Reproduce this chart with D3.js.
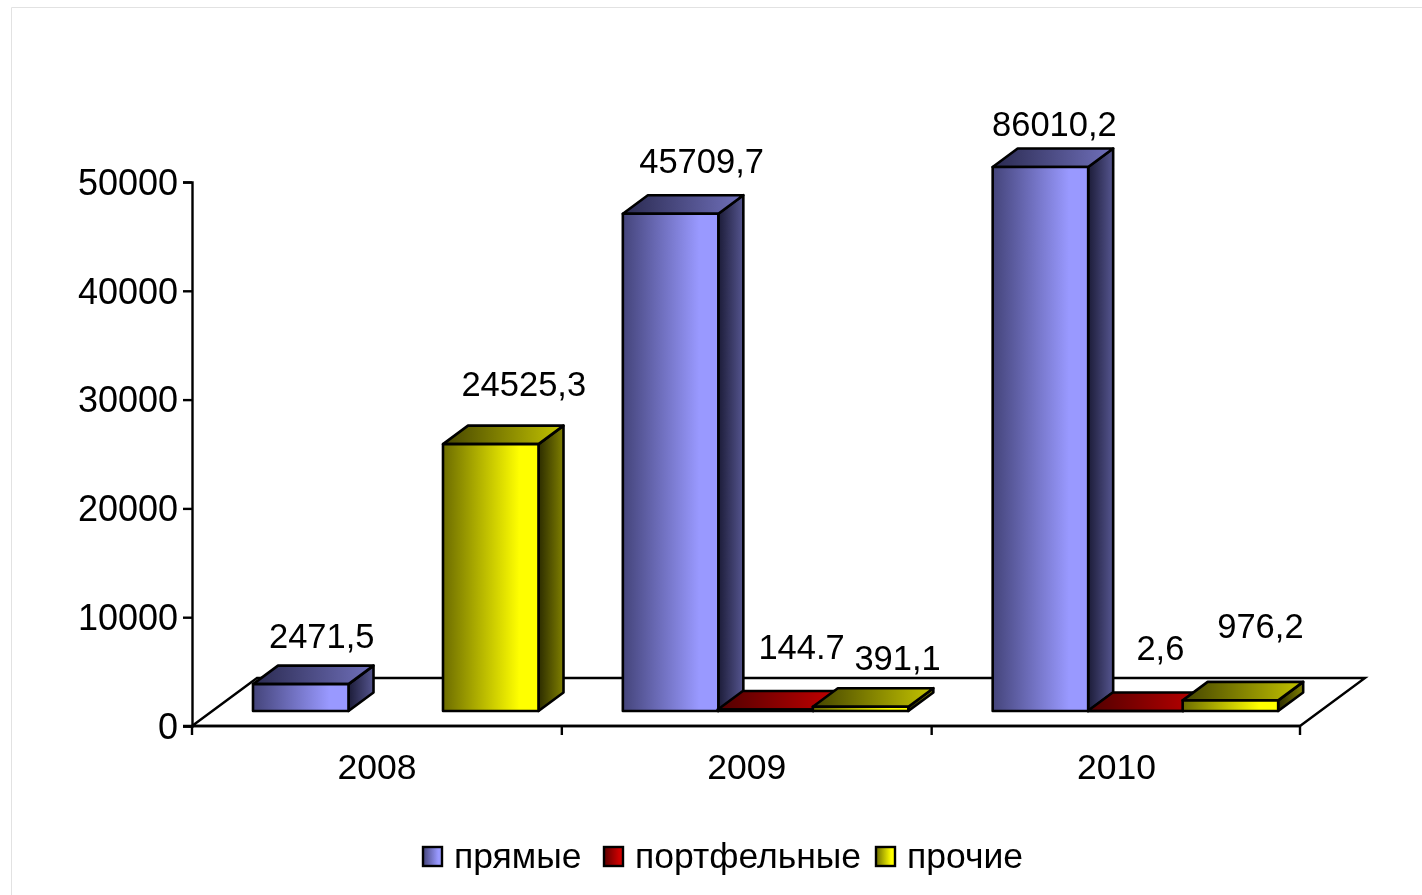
<!DOCTYPE html>
<html><head><meta charset="utf-8">
<style>html,body{margin:0;padding:0;background:#fff;overflow:hidden}svg{display:block;filter:blur(0.45px)}
text{font-family:"Liberation Sans",Arial,sans-serif;fill:#000}</style>
<script src="https://cdn.jsdelivr.net/npm/d3@7/dist/d3.min.js"></script></head>
<body><svg id="c" width="1422" height="895"></svg>
<script>
const years = ["2008","2009","2010"];
const seriesNames = ["прямые","портфельные","прочие"];
const direct = [2471.5,45709.7,86010.2];
const portfolio = [null,144.7,2.6];
const other = [24525.3,391.1,976.2];
const directLabels = ["2471,5","45709,7","86010,2"];
const portfolioLabels = [null,"144.7","2,6"];
const otherLabels = ["24525,3","391,1","976,2"];
const yTicks = [0,10000,20000,30000,40000,50000];

const seriesValues=[direct,portfolio,other], seriesLabels=[directLabels,portfolioLabels,otherLabels];
const palettes=[
 {front:["#44447a","#9999ff"],side:["#1c1c38","#55558f"],top:["#2a2a50","#7070bb"]},
 {front:["#5c0000","#cc0000"],side:["#330000","#800000"],top:["#500000","#c40000"]},
 {front:["#6c6c00","#ffff00"],side:["#2c2c00","#808000"],top:["#444400","#c4c400"]}];
const L=192,R=1300,Y0=726,Ytop=182;
const depth={dx:65,dy:-48}, frontOff={dx:20,dy:-15}, barDepth={dx:25,dy:-18.5};
const svg=d3.select("#c");
const defs=svg.append("defs");
palettes.forEach((p,i)=>{for(const k of ["front","side","top"]){
  const g=defs.append("linearGradient").attr("id",`g${i}${k}`);
  g.append("stop").attr("offset","0").attr("stop-color",p[k][0]);
  g.append("stop").attr("offset",k==="front"?"0.8":"1").attr("stop-color",p[k][1]);
  if(k==="front")g.append("stop").attr("offset","1").attr("stop-color",p[k][1]);
}});
const x=d3.scaleBand().domain(years).range([L,1301.5]);
const inner=d3.scaleBand().domain(d3.range(3)).range([41,41+285]);
const bw=95.5;
const y=d3.scaleLinear().domain([0,50000]).range([Y0,Ytop]).clamp(true);

// page frame
svg.append("path").attr("d","M11.5,895V7.5H1422").attr("fill","none").attr("stroke","#e2e2e2");
// floor
svg.append("path").attr("d",`M${L},${Y0}L${L+depth.dx},${Y0+depth.dy}H${R+depth.dx}L${R},${Y0}Z`)
 .attr("fill","#fff").attr("stroke","#000").attr("stroke-width",2.4);
// axes
const yAxis=d3.axisLeft(y).tickValues(yTicks).tickFormat(d3.format("d")).tickSize(9).tickPadding(5);
const ya=svg.append("g").attr("transform",`translate(${L},0)`).call(yAxis);
ya.select(".domain").attr("stroke","#000").attr("stroke-width",2.4);
ya.selectAll("line").attr("stroke","#000").attr("stroke-width",2.4);
ya.selectAll("text").style("font-size","36px").attr("dy","0.34em").attr("fill","#000");
const xa=svg.append("g").attr("transform",`translate(0,${Y0})`);
xa.append("line").attr("x1",L-9).attr("x2",R).attr("stroke","#000").attr("stroke-width",2.4);
xa.selectAll("line.t").data([...years.map(d=>x(d)),R]).join("line").attr("class","t")
 .attr("x1",d=>d).attr("x2",d=>d).attr("y1",0).attr("y2",9).attr("stroke","#000").attr("stroke-width",2.4);
xa.selectAll("text").data(years).join("text").attr("x",d=>x(d)+x.bandwidth()/2).attr("y",53)
 .attr("text-anchor","middle").style("font-size","35.5px").text(d=>d);
// bars
const bars=[];
years.forEach((yr,c)=>seriesValues.forEach((vals,s)=>{if(vals[c]!=null)bars.push({c:yr,ci:c,s,v:vals[c]})}));
const sg=svg.append("g").attr("stroke","#000").attr("stroke-width",2.6).attr("stroke-linejoin","round");
bars.forEach(b=>{
  const x0=x(b.c)+inner(b.s)+frontOff.dx, x1=x0+bw, base=Y0+frontOff.dy;
  const top=y(b.v)+frontOff.dy, dx=barDepth.dx, dy=barDepth.dy;
  sg.append("path").attr("fill",`url(#g${b.s}side)`).attr("d",`M${x1},${base}V${top}L${x1+dx},${top+dy}V${base+dy}Z`);
  sg.append("path").attr("fill",`url(#g${b.s}top)`).attr("d",`M${x0},${top}L${x0+dx},${top+dy}H${x1+dx}L${x1},${top}Z`);
  sg.append("rect").attr("fill",`url(#g${b.s}front)`).attr("x",x0).attr("y",top).attr("width",bw).attr("height",base-top);
});
// value labels: offset from the top-front centre of each bar [series][year]
const labelOffsets=[[[21,-36],[31,-41],[14,-31]],[null,[36,-50],[25,-51]],[[33,-48],[37,-37],[30,-62]]];
const labelLayer=svg.append("g");
bars.forEach(b=>{
  const o=labelOffsets[b.s][b.ci];
  labelLayer.append("text").attr("x",x(b.c)+inner(b.s)+frontOff.dx+bw/2+o[0]).attr("y",y(b.v)+frontOff.dy+o[1])
   .attr("text-anchor","middle").style("font-size","34.5px").text(seriesLabels[b.s][b.ci]);
});
// legend
const legendX=[422,603,875];
const lg=svg.append("g");
seriesNames.forEach((n,i)=>{
  lg.append("rect").attr("x",legendX[i]+1).attr("y",847).attr("width",19).attr("height",19)
   .attr("fill",`url(#g${i}front)`).attr("stroke","#000").attr("stroke-width",2.4);
  lg.append("text").attr("x",legendX[i]+32).attr("y",868).style("font-size","35.5px").text(n);
});
</script></body></html>
